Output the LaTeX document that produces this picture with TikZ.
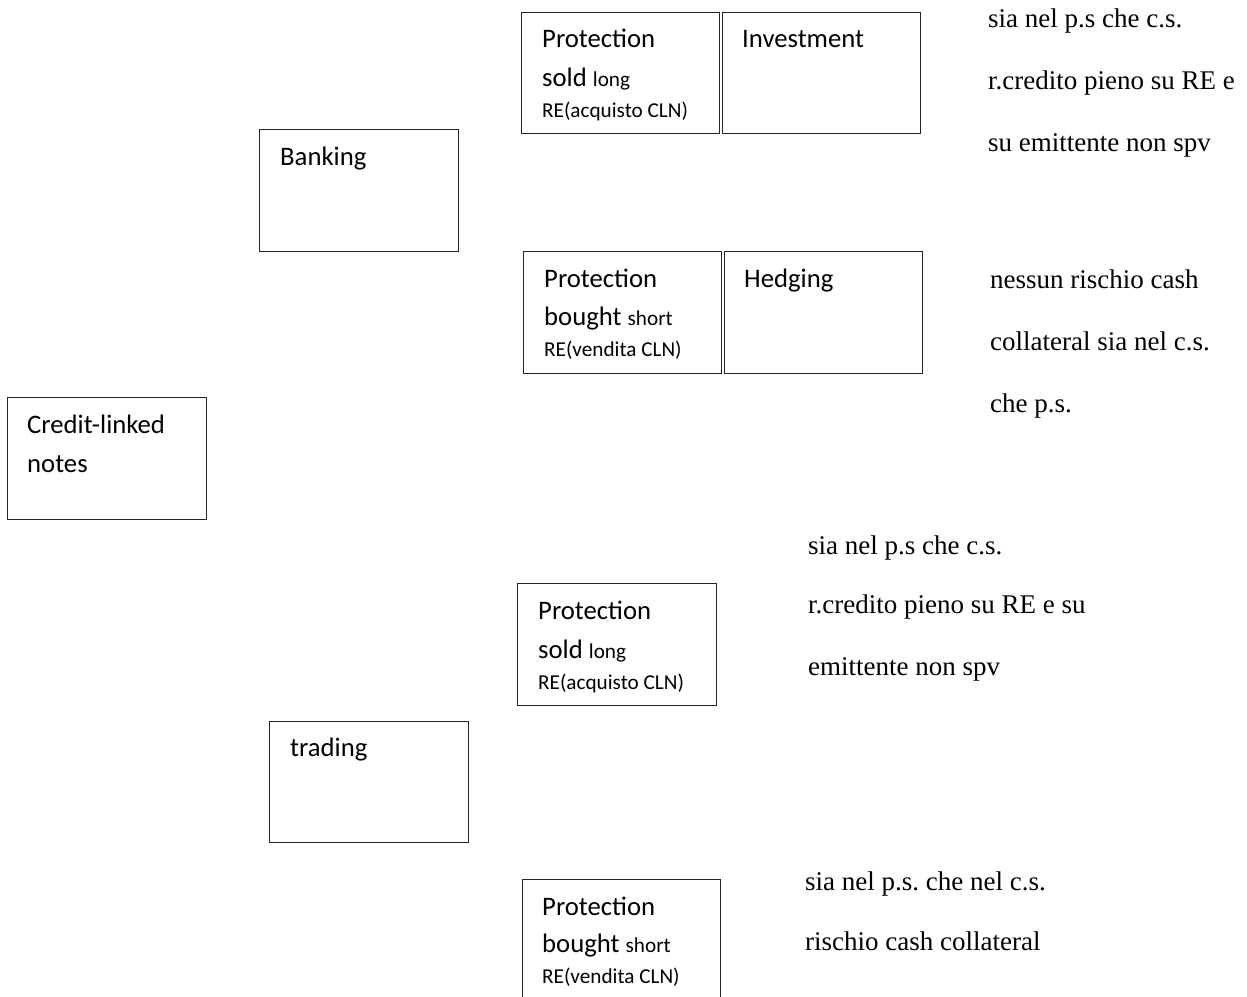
\documentclass[tikz,border=0pt]{standalone}
\usepackage{fontspec}
\setmainfont{Carlito}
\newfontfamily\tnr{Liberation Serif}
\frenchspacing
\begin{document}
\begin{tikzpicture}[x=1pt,y=-1pt,
  box/.style={draw=black!85,line width=0.9pt,minimum width=198pt,minimum height=121pt,inner sep=0pt},
  lbl/.style={anchor=base west,inner sep=0pt,font=\fontsize{26.7}{32}\selectfont},
  note/.style={anchor=base west,inner sep=0pt,font=\tnr\fontsize{27}{32}\selectfont}]
\newcommand{\smallfs}{\fontsize{21.2}{25}\selectfont}
\useasboundingbox (0,0) rectangle (1247,996);
\clip (0,0) rectangle (1247,996);
% boxes
\node[box] (psoldA) at (620.5,72.5) {};
\node[box,minimum width=198pt] (invest) at (821.5,72.5) {};
\node[box,minimum width=199pt,minimum height=122pt] (banking) at (358.5,190) {};
\node[box,minimum height=122pt] (pboughtA) at (622.5,312) {};
\node[box,minimum width=198pt,minimum height=122pt] (hedging) at (823.5,312) {};
\node[box,minimum width=199pt,minimum height=122pt] (cln) at (106.5,458) {};
\node[box,minimum width=199pt,minimum height=122pt] (psoldB) at (616.5,644) {};
\node[box,minimum width=199pt] (trading) at (368.5,781.5) {};
\node[box,minimum height=122pt] (pboughtB) at (621,940) {};
% box texts
\node[lbl] (t1a) at (542,47) {Protection};
\node[lbl] (t1b) at (542,86) {sold {\smallfs long}};
\node[lbl,font=\smallfs] (t1c) at (542,117) {RE(acquisto CLN)};
\node[lbl] (t2) at (742,47) {Investment};
\node[lbl] (t3) at (280,165) {Banking};
\node[lbl] (t4a) at (544,287) {Protection};
\node[lbl] (t4b) at (544,325) {bought {\smallfs short}};
\node[lbl,font=\smallfs] (t4c) at (544,356) {RE(vendita CLN)};
\node[lbl] (t5) at (744,287) {Hedging};
\node[lbl] (t6a) at (27,433) {Credit-linked};
\node[lbl] (t6b) at (27,472) {notes};
\node[lbl] (t7a) at (538,619) {Protection};
\node[lbl] (t7b) at (538,658) {sold {\smallfs long}};
\node[lbl,font=\smallfs] (t7c) at (538,689) {RE(acquisto CLN)};
\node[lbl] (t8) at (290,756) {trading};
\node[lbl] (t9a) at (542,915) {Protection};
\node[lbl] (t9b) at (542,952) {bought {\smallfs short}};
\node[lbl,font=\smallfs] (t9c) at (542,983) {RE(vendita CLN)};
% notes
\node[note] (n1a) at (988,27) {sia nel p.s che c.s.};
\node[note] (n1b) at (988,89) {r.credito pieno su RE e};
\node[note] (n1c) at (988,151) {su emittente non spv};
\node[note] (n2a) at (990,288) {nessun rischio cash};
\node[note] (n2b) at (990,350) {collateral sia nel c.s.};
\node[note] (n2c) at (990,412) {che p.s.};
\node[note] (n3a) at (808,554) {sia nel p.s che c.s.};
\node[note] (n3b) at (808,613) {r.credito pieno su RE e su};
\node[note] (n3c) at (808,675) {emittente non spv};
\node[note] (n4a) at (805,890) {sia nel p.s. che nel c.s.};
\node[note] (n4b) at (805,950) {rischio cash collateral};
\end{tikzpicture}
\end{document}
